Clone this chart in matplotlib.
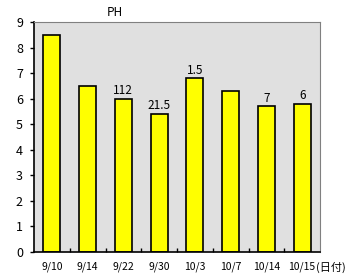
import matplotlib
matplotlib.use("Agg")
import matplotlib.pyplot as plt

categories = ["9/10", "9/14", "9/22", "9/30", "10/3", "10/7", "10/14", "10/15"]
values = [8.5, 6.5, 6.0, 5.4, 6.8, 6.3, 5.7, 5.8]
bar_labels = ["", "", "112", "21.5", "1.5", "", "7", "6"]
yticks = [0, 1, 2, 3, 4, 5, 6, 7, 8, 9]

plt.rcParams['font.family'] = ['Noto Sans CJK JP', 'DejaVu Sans']

fig = plt.figure(figsize=(3.56, 2.79), dpi=100)
W, H = 356, 279
l, r, t, b = 34, 320, 22, 252
ax = fig.add_axes([l / W, 1 - b / H, (r - l) / W, (b - t) / H])
ax.set_facecolor('#e0e0e0')

x = list(range(len(categories)))
ax.bar(x, values, width=0.48, color='#ffff00', edgecolor='black', linewidth=1.2, zorder=2)
for xi, v, lab in zip(x, values, bar_labels):
    if lab:
        ax.text(xi, v + 0.06, lab, ha='center', va='bottom', fontsize=8.5, color='black')

ax.set_xlim(-0.5, len(categories) - 0.5)
ax.set_ylim(0, 9)
ax.set_yticks(yticks)
ax.set_yticklabels([str(v) for v in yticks], fontsize=9)
ax.set_xticks(x)
ax.set_xticklabels(categories, fontsize=7.5)
ax.set_xticks([i + 0.5 for i in range(len(categories) - 1)], minor=True)
ax.tick_params(axis='x', which='major', length=0, pad=7)
ax.tick_params(axis='x', which='minor', length=3, direction='in', width=1, color='black')
ax.tick_params(axis='y', length=3, direction='out', width=1, color='black', pad=5)

ax.spines['left'].set_color('black')
ax.spines['bottom'].set_color('black')
ax.spines['left'].set_linewidth(1.2)
ax.spines['bottom'].set_linewidth(1.2)
ax.spines['top'].set_color('#808080')
ax.spines['right'].set_color('#808080')

fig.text(115 / W, 1 - 13 / H, "PH", ha='center', va='center', fontsize=8.5)
fig.text(316 / W, 1 - 267.5 / H, "(日付)", ha='left', va='center', fontsize=8)

fig.savefig("out.png", dpi=100)
